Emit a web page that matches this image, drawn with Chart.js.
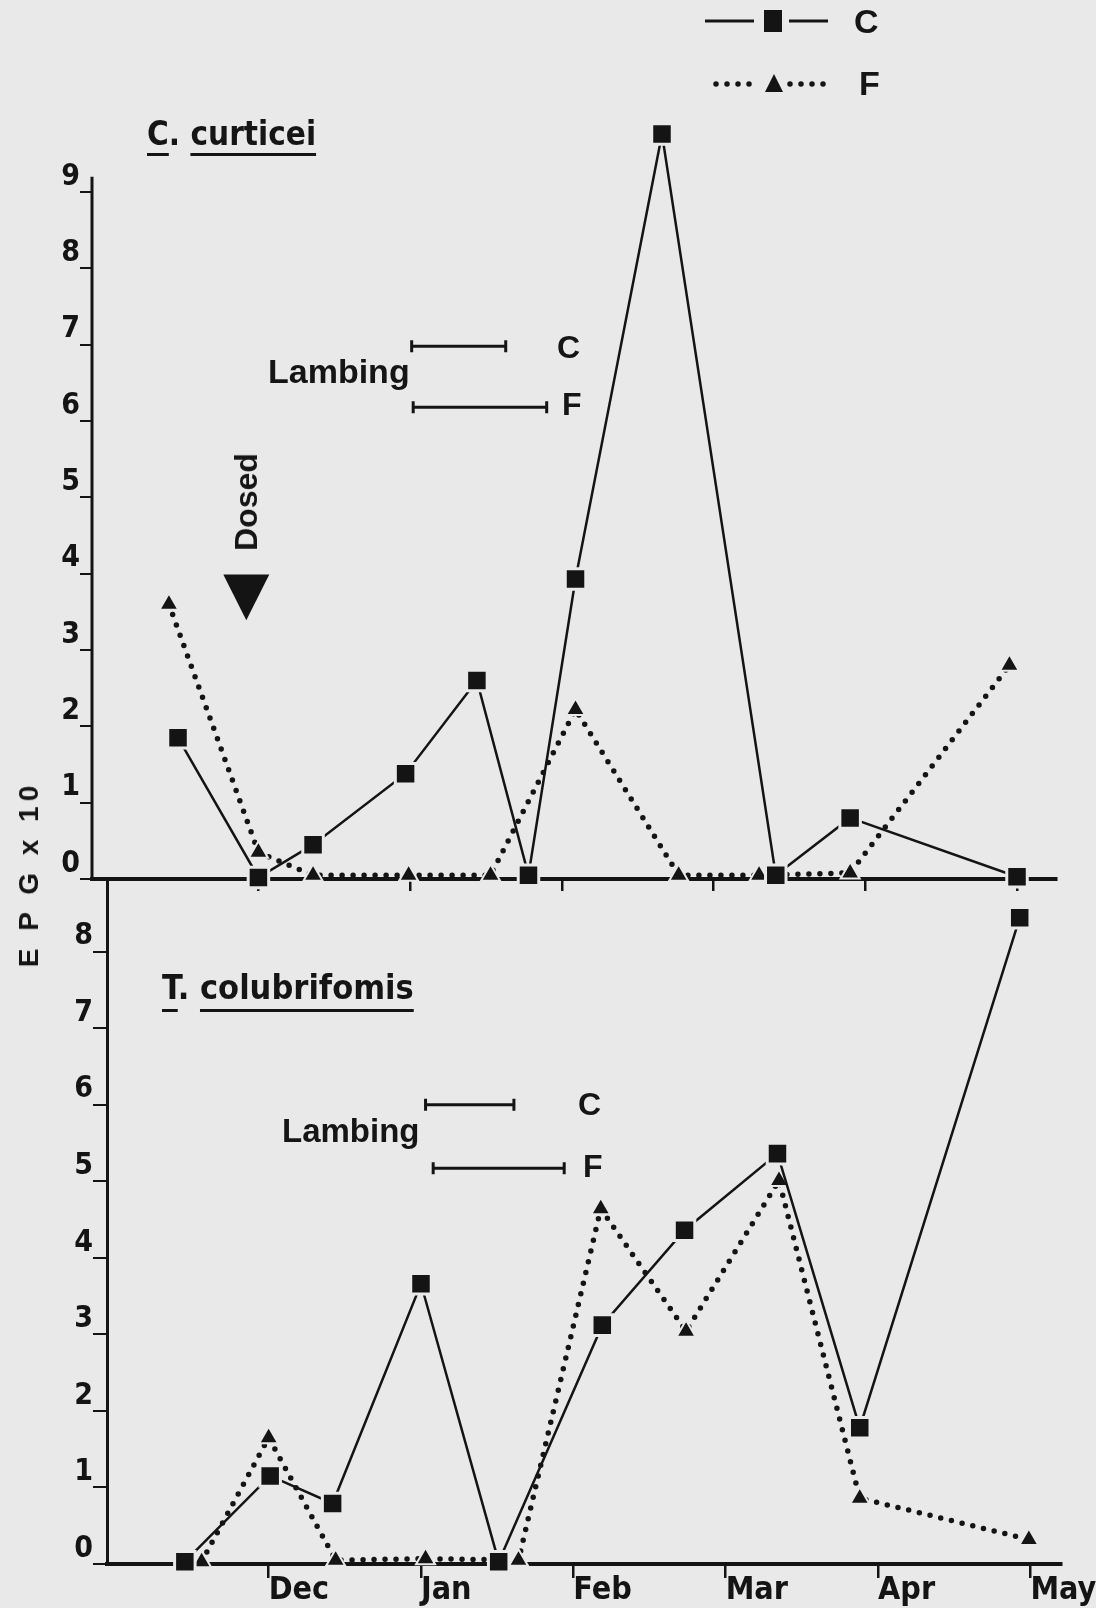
<!DOCTYPE html>
<html>
<head>
<meta charset="utf-8">
<script src="https://cdn.jsdelivr.net/npm/chart.js@4.4.1/dist/chart.umd.min.js"></script>
<style>
body { margin: 0; background: #e9e9e9; }
#page { position: relative; width: 1096px; height: 1608px; overflow: hidden; background: #e9e9e9;
        font-family: 'Liberation Sans', Arial, sans-serif; font-weight: bold; color: #151515; }
canvas { position: absolute; left: 0; top: 0; }
.t { position: absolute; line-height: 1; white-space: nowrap; }
.narrow { font-family: 'Liberation Sans Narrow', 'DejaVu Sans Condensed', sans-serif; }
.ul { text-decoration: underline; text-decoration-thickness: 3px; }
.rot { transform: translate(-50%, -50%) rotate(-90deg); }
</style>
</head>
<body>
<div id="page">
  <canvas id="topChart" width="1096" height="1608"></canvas>
  <canvas id="bottomChart" width="1096" height="1608"></canvas>

  <!-- key -->
  <div class="t" style="left:854px;top:4px;font-size:34px">C</div>
  <div class="t" style="left:859px;top:66px;font-size:34px">F</div>

  <!-- top panel -->
  <div class="t narrow" style="left:147px;top:117px;font-size:33px;text-underline-offset:8px"><span class="ul">C</span>. <span class="ul">curticei</span></div>
  <div class="t" style="left:268px;top:354px;font-size:34px">Lambing</div>
  <div class="t" style="left:557px;top:331px;font-size:32px">C</div>
  <div class="t" style="left:562px;top:388px;font-size:32px">F</div>
  <div class="t rot" style="left:246px;top:502px;font-size:32px">Dosed</div>

  <!-- bottom panel -->
  <div class="t narrow" style="left:162px;top:970px;font-size:34px;text-underline-offset:10px"><span class="ul">T</span>. <span class="ul">colubrifomis</span></div>
  <div class="t" style="left:282px;top:1114px;font-size:33px">Lambing</div>
  <div class="t" style="left:578px;top:1088px;font-size:32px">C</div>
  <div class="t" style="left:583px;top:1150px;font-size:32px">F</div>

  <div class="t rot" style="left:29px;top:874px;font-size:28px;letter-spacing:5px">E P G x 10</div>
</div>

<script>
// months counted from 1 Nov (Dec = 1 ... May = 6)
const monthLabels = ['Dec', 'Jan', 'Feb', 'Mar', 'Apr', 'May'];
const yTicksTop = [0, 1, 2, 3, 4, 5, 6, 7, 8, 9];
const yTicksBottom = [0, 1, 2, 3, 4, 5, 6, 7, 8];

// C. curticei, EPG x 10
const curticeiMonthC = [0.47, 1.00, 1.36, 1.97, 2.44, 2.78, 3.09, 3.66, 4.41, 4.90, 6.00];
const curticeiEpgC   = [1.85, 0.02, 0.45, 1.38, 2.60, 0.05, 3.93, 9.76, 0.05, 0.80, 0.03];
const curticeiMonthF = [0.41, 1.00, 1.36, 1.99, 2.53, 3.09, 3.77, 4.30, 4.90, 5.95];
const curticeiEpgF   = [3.60, 0.35, 0.05, 0.05, 0.05, 2.22, 0.05, 0.05, 0.08, 2.80];

// T. colubriformis, EPG x 10
const colubMonthC = [0.45, 1.01, 1.42, 2.00, 2.51, 3.19, 3.73, 4.34, 4.88, 5.93];
const colubEpgC   = [0.03, 1.15, 0.79, 3.66, 0.03, 3.12, 4.36, 5.36, 1.78, 8.44];
const colubMonthF = [0.56, 1.00, 1.44, 2.03, 2.64, 3.18, 3.74, 4.35, 4.88, 5.99];
const colubEpgF   = [0.03, 1.65, 0.05, 0.07, 0.05, 4.64, 3.04, 5.01, 0.86, 0.32];

// lambing periods (start, end month)
const lambingTopC = [2.01, 2.63];
const lambingTopF = [2.02, 2.90];
const lambingBottomC = [2.03, 2.61];
const lambingBottomF = [2.08, 2.94];

const ink = '#141414';
const paper = '#e9e9e9';
const narrow = "'Liberation Sans Narrow', 'DejaVu Sans Condensed', sans-serif";

function pts(xs, ys) {
    return xs.map((x, i) => ({ x: x, y: ys[i] }));
}

const styleC = {
    borderColor: ink, borderWidth: 2.5, tension: 0,
    pointStyle: 'rect', pointRadius: 14.5, pointBackgroundColor: ink,
    pointBorderColor: paper, pointBorderWidth: 3, clip: false
};
const styleF = {
    borderColor: ink, borderWidth: 5.5, borderDash: [0, 11], borderCapStyle: 'round', tension: 0,
    pointStyle: 'triangle', pointRadius: 11, pointBackgroundColor: ink,
    pointBorderColor: paper, pointBorderWidth: 2, clip: false
};

// lambing bars, dosing arrow, short y axis and the key
const marks = {
    id: 'marks',
    beforeDatasetsDraw(chart, args, opts) {
        if (opts.axisTo === undefined) return;
        const ctx = chart.ctx;
        const y = chart.scales.y;
        const left = chart.chartArea.left;
        ctx.save();
        ctx.strokeStyle = ink;
        ctx.lineWidth = 3;
        ctx.beginPath();
        ctx.moveTo(left, y.getPixelForValue(0) + 2);
        ctx.lineTo(left, y.getPixelForValue(opts.axisTo));
        ctx.stroke();
        ctx.restore();
    },
    afterDatasetsDraw(chart, args, opts) {
        const ctx = chart.ctx;
        const x = chart.scales.x, y = chart.scales.y;
        ctx.save();
        ctx.strokeStyle = ink;
        ctx.fillStyle = ink;
        ctx.lineWidth = 3;
        (opts.bars || []).forEach(b => {
            const x0 = x.getPixelForValue(b.span[0]);
            const x1 = x.getPixelForValue(b.span[1]);
            const py = y.getPixelForValue(b.level);
            ctx.beginPath();
            ctx.moveTo(x0, py); ctx.lineTo(x1, py);
            ctx.moveTo(x0, py - 6); ctx.lineTo(x0, py + 6);
            ctx.moveTo(x1, py - 6); ctx.lineTo(x1, py + 6);
            ctx.stroke();
        });
        if (opts.dosed) {
            const px = x.getPixelForValue(opts.dosed.at);
            const top = y.getPixelForValue(opts.dosed.from);
            const tip = y.getPixelForValue(opts.dosed.to);
            ctx.beginPath();
            ctx.moveTo(px - 23, top); ctx.lineTo(px + 23, top); ctx.lineTo(px, tip);
            ctx.closePath();
            ctx.fill();
        }
        if (opts.key) {
            ctx.lineWidth = 3;
            ctx.beginPath();
            ctx.moveTo(705, 21); ctx.lineTo(754, 21);
            ctx.moveTo(789, 21); ctx.lineTo(828, 21);
            ctx.stroke();
            ctx.fillRect(764, 10, 18, 22);
            ctx.setLineDash([0, 11]);
            ctx.lineCap = 'round';
            ctx.lineWidth = 5.5;
            ctx.beginPath();
            ctx.moveTo(716, 84); ctx.lineTo(760, 84);
            ctx.moveTo(790, 84); ctx.lineTo(830, 84);
            ctx.stroke();
            ctx.setLineDash([]);
            ctx.beginPath();
            ctx.moveTo(774, 74); ctx.lineTo(783, 92); ctx.lineTo(765, 92);
            ctx.closePath();
            ctx.fill();
        }
        ctx.restore();
    }
};

function xAxis(min, max, height, tickLen, showLabels) {
    return {
        type: 'linear', min: min, max: max,
        afterBuildTicks: s => { s.ticks = monthLabels.map((m, i) => ({ value: i + 1 })); },
        afterFit: s => { s.height = height; },
        ticks: {
            display: showLabels, autoSkip: false, maxRotation: 0, align: 'start', padding: -7,
            color: ink, font: { family: narrow, size: 32, weight: 'bold' },
            callback: (v, i) => monthLabels[i]
        },
        grid: { drawOnChartArea: false, drawTicks: true, tickLength: tickLen, color: ink, lineWidth: 2.5 },
        border: { display: true, color: ink, width: 4 }
    };
}

function yAxis(max, tickValues, width, tickLen, showBorder) {
    return {
        type: 'linear', min: 0, max: max,
        afterBuildTicks: s => { s.ticks = tickValues.map(v => ({ value: v })); },
        afterFit: s => { s.width = width; },
        ticks: { align: 'end', padding: 0, color: ink, font: { family: narrow, size: 30, weight: 'bold' } },
        grid: { drawOnChartArea: false, drawTicks: true, tickLength: tickLen, color: ink, lineWidth: 2 },
        border: { display: showBorder, color: ink, width: 3 }
    };
}

new Chart(document.getElementById('topChart'), {
    type: 'line',
    data: {
        datasets: [
            Object.assign({ label: 'C', data: pts(curticeiMonthC, curticeiEpgC) }, styleC),
            Object.assign({ label: 'F', data: pts(curticeiMonthF, curticeiEpgF) }, styleF)
        ]
    },
    options: {
        responsive: false,
        animation: false,
        events: [],
        layout: { padding: { left: 0, top: 119.5, right: 40, bottom: 709 } },
        plugins: {
            legend: { display: false },
            tooltip: { enabled: false },
            marks: {
                axisTo: 9.2,
                bars: [{ span: lambingTopC, level: 6.98 }, { span: lambingTopF, level: 6.18 }],
                dosed: { at: 0.92, from: 3.99, to: 3.39 },
                key: true
            }
        },
        scales: {
            x: xAxis(-0.097, 6.257, 20, 12, false),
            y: yAxis(9.95, yTicksTop, 92, 12, false)
        }
    },
    plugins: [marks]
});

new Chart(document.getElementById('bottomChart'), {
    type: 'line',
    data: {
        datasets: [
            Object.assign({ label: 'C', data: pts(colubMonthC, colubEpgC) }, styleC),
            Object.assign({ label: 'F', data: pts(colubMonthF, colubEpgF) }, styleF)
        ]
    },
    options: {
        responsive: false,
        animation: false,
        events: [],
        layout: { padding: { left: 0, top: 879, right: 35, bottom: 0 } },
        plugins: {
            legend: { display: false },
            tooltip: { enabled: false },
            marks: {
                bars: [{ span: lambingBottomC, level: 6.0 }, { span: lambingBottomF, level: 5.17 }]
            }
        },
        scales: {
            x: xAxis(-0.061, 6.201, 44, 14, true),
            y: yAxis(8.947, yTicksBottom, 107, 14, true)
        }
    },
    plugins: [marks]
});
</script>
</body>
</html>
